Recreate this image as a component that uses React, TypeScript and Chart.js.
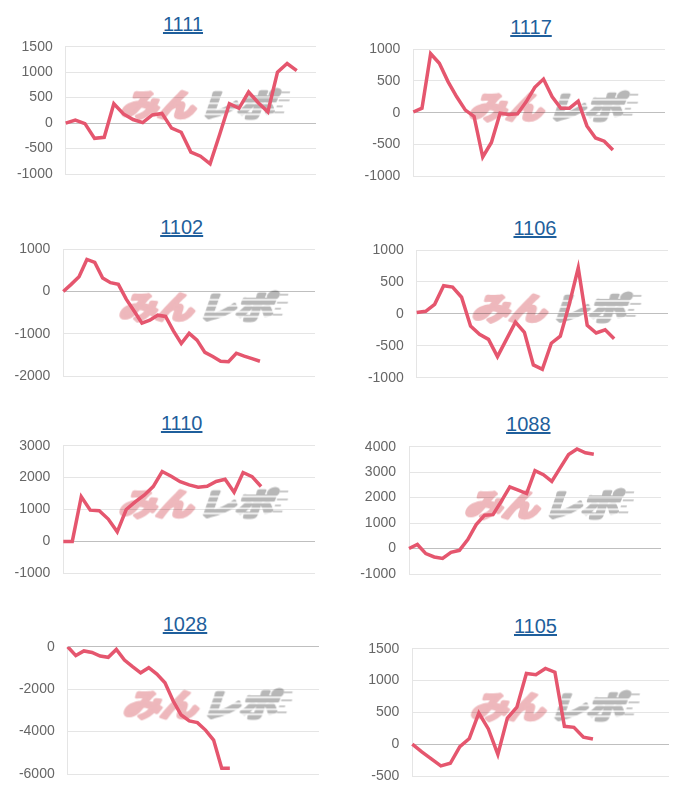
import React, { useEffect, useRef } from 'react';
import { Chart, registerables } from 'chart.js';

Chart.register(...registerables);

// ---- data ----
const machineIds = ['1111', '1117', '1102', '1106', '1110', '1088', '1028', '1105'];

// number of x slots (category labels) per chart
const slotCounts = [27, 30, 33, 29, 29, 31, 32, 28];

const diff1111 = [0, 60, -10, -300, -280, 380, 180, 70, 10, 160, 190, -100, -180, -570, -650, -800, -220, 380, 290, 610, 400, 220, 1000, 1170, 1030];
const diff1117 = [10, 70, 930, 780, 490, 250, 40, -60, -700, -470, -10, -30, -20, 170, 400, 530, 250, 70, 70, 180, -210, -400, -450, -590];
const diff1102 = [0, 170, 350, 760, 690, 320, 210, 170, -180, -460, -750, -680, -560, -590, -930, -1230, -990, -1150, -1440, -1540, -1650, -1660, -1460, -1530, -1590, -1650];
const diff1106 = [20, 40, 150, 440, 420, 260, -190, -320, -400, -670, -400, -130, -290, -800, -870, -460, -350, 150, 720, -180, -300, -250, -390];
const diff1110 = [0, 0, 1400, 980, 960, 700, 300, 1000, 1240, 1450, 1720, 2190, 2040, 1870, 1770, 1700, 1730, 1880, 1950, 1540, 2160, 2030, 1720];
const diff1088 = [0, 160, -200, -330, -390, -150, -70, 350, 940, 1310, 1330, 1860, 2420, 2290, 2160, 3060, 2900, 2640, 3170, 3690, 3910, 3760, 3700];
const diff1028 = [0, -420, -200, -270, -440, -500, -130, -630, -940, -1230, -990, -1290, -1700, -2550, -3220, -3500, -3580, -3930, -4400, -5730, -5730];
const diff1105 = [0, -120, -230, -340, -300, -40, 90, 490, 240, -160, 410, 580, 1110, 1090, 1190, 1130, 280, 265, 110, 80];

const seriesList = [diff1111, diff1117, diff1102, diff1106, diff1110, diff1088, diff1028, diff1105];

// y tick ranges
const yMins = [-1000, -1000, -2000, -1000, -1000, -1000, -6000, -500];
const yMaxs = [1500, 1000, 1000, 1000, 3000, 4000, 0, 1500];
const ySteps = [500, 500, 1000, 500, 1000, 1000, 2000, 500];

// ---- layout (page px) ----
const frames = [
  { cl: 8, pl: 65.7, pr: 316, pt: 46.7, pb: 174, tx: 183 },
  { cl: 357, pl: 413.3, pr: 665, pt: 49.3, pb: 176, tx: 531 },
  { cl: 8, pl: 63.3, pr: 315, pt: 249.3, pb: 376, tx: 181.7 },
  { cl: 357, pl: 416.7, pr: 668.3, pt: 250, pb: 377.7, tx: 535 },
  { cl: 8, pl: 63.3, pr: 315, pt: 445.7, pb: 573.3, tx: 181.7 },
  { cl: 357, pl: 409, pr: 660.7, pt: 446.7, pb: 574, tx: 528.3 },
  { cl: 8, pl: 67.7, pr: 319.3, pt: 646.7, pb: 774, tx: 185 },
  { cl: 357, pl: 412.3, pr: 669, pt: 648.7, pb: 776, tx: 535.5 },
];

const FONT = '"Liberation Sans", Arial, Helvetica, sans-serif';
const LINE_COLOR = '#e5566e';
const LINK_COLOR = '#1f5f9c';

let markCanvas: HTMLCanvasElement | null = null;
function getMark(): HTMLCanvasElement {
  if (markCanvas) return markCanvas;
  const c = document.createElement('canvas');
  c.width = 200;
  c.height = 50;
  const g = c.getContext('2d')!;
  g.translate(100, 25);
  g.transform(1.2, 0, -0.35, 1, 0, 0);
  g.font = 'bold 31px "Noto Sans CJK JP"';
  g.textBaseline = 'middle';
  g.lineJoin = 'round';
  g.lineWidth = 3.4;
  g.textAlign = 'right';
  g.fillStyle = 'rgb(214,86,96)';
  g.strokeStyle = 'rgb(214,86,96)';
  g.fillText('みん', -2, 1);
  g.strokeText('みん', -2, 1);
  g.textAlign = 'left';
  g.fillStyle = 'rgb(85,85,85)';
  g.strokeStyle = 'rgb(85,85,85)';
  g.fillText('レポ', 2, 1);
  g.strokeText('レポ', 2, 1);
  // speed-line cuts through the grey part
  g.globalCompositeOperation = 'destination-out';
  g.lineWidth = 1.5;
  for (const dy of [-6, 0, 6, 11]) {
    g.beginPath();
    g.moveTo(6, dy);
    g.lineTo(72, dy);
    g.stroke();
  }
  g.globalCompositeOperation = 'source-over';
  g.strokeStyle = 'rgb(85,85,85)';
  g.lineWidth = 1.6;
  for (const [dy, len] of [[-11, 7], [-3, 9], [3, 5], [9, 8]]) {
    g.beginPath();
    g.moveTo(64, dy);
    g.lineTo(64 + len, dy);
    g.stroke();
  }
  markCanvas = c;
  return c;
}

const watermarkPlugin = {
  id: 'minrepoMark',
  beforeDraw(chart: any) {
    const { ctx, chartArea: a } = chart;
    if (!a) return;
    const cx = (a.left + a.right) / 2 + 10;
    const cy = (a.top + a.bottom) / 2 - 7;
    const m = getMark();
    ctx.save();
    ctx.globalAlpha = 0.42;
    ctx.drawImage(m, cx - m.width / 2, cy - m.height / 2);
    ctx.restore();
  },
};

function MiniChart({ index }: { index: number }) {
  const ref = useRef<HTMLCanvasElement | null>(null);
  const f = frames[index];
  const top = Math.round(f.pt) - 10;
  const height = Math.round(f.pb) - Math.round(f.pt) + 20;
  const width = Math.round(f.pr) - f.cl + 4;
  const axisW = f.pl - f.cl;

  useEffect(() => {
    if (!ref.current) return;
    const labels = Array.from({ length: slotCounts[index] }, (_, i) => String(i + 1));
    const chart = new Chart(ref.current, {
      type: 'line',
      data: {
        labels,
        datasets: [
          {
            data: seriesList[index],
            borderColor: LINE_COLOR,
            backgroundColor: LINE_COLOR,
            borderWidth: 3.5,
            pointRadius: 0,
            pointHoverRadius: 0,
            pointBorderWidth: 0,
            tension: 0,
            fill: false,
          },
        ],
      },
      options: {
        responsive: false,
        animation: false,
        devicePixelRatio: 1,
        layout: {
          autoPadding: false,
          padding: {
            left: 0,
            right: 4,
            top: f.pt - top,
            bottom: top + height - f.pb,
          },
        },
        plugins: {
          legend: { display: false },
          title: { display: false },
          tooltip: { enabled: false },
        },
        scales: {
          x: { display: false, offset: false },
          y: {
            min: yMins[index],
            max: yMaxs[index],
            afterFit: (scale: any) => {
              scale.width = axisW;
              scale.paddingTop = 0;
              scale.paddingBottom = 0;
            },
            border: { display: true, color: 'rgba(0,0,0,0.1)' },
            grid: {
              drawTicks: false,
              color: (c: any) =>
                c.tick && c.tick.value === 0 ? 'rgba(0,0,0,0.25)' : 'rgba(0,0,0,0.1)',
            },
            ticks: {
              stepSize: ySteps[index],
              padding: 13,
              color: '#666',
              font: { size: 14, family: FONT },
              callback: (v: any) => String(v),
            },
          },
        },
      },
      plugins: [watermarkPlugin],
    });
    return () => chart.destroy();
  }, [index]);

  return (
    <>
      <a
        href="#"
        onClick={(e) => e.preventDefault()}
        style={{
          position: 'absolute',
          left: f.tx - 60,
          width: 120,
          top: f.pt - 32.4,
          textAlign: 'center',
          fontFamily: FONT,
          fontSize: 20,
          lineHeight: '20px',
          color: LINK_COLOR,
          textDecoration: 'underline',
        }}
      >
        {machineIds[index]}
      </a>
      <canvas
        ref={ref}
        width={width}
        height={height}
        style={{ position: 'absolute', left: f.cl, top, width, height }}
      />
    </>
  );
}

export default function App() {
  return (
    <div style={{ position: 'absolute', left: 0, top: 0, width: 700, height: 790, background: '#fff' }}>
      {machineIds.map((_, i) => (
        <MiniChart key={i} index={i} />
      ))}
    </div>
  );
}
